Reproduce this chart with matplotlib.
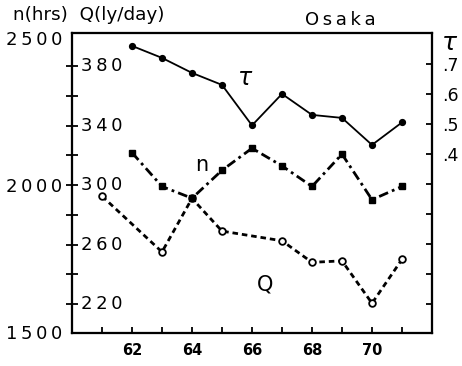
import matplotlib
matplotlib.use("Agg")
import matplotlib.pyplot as plt

# --- data ---
years_tau = [62, 63, 64, 65, 66, 67, 68, 69, 70, 71]
tau = [0.76, 0.72, 0.67, 0.63, 0.495, 0.60, 0.53, 0.52, 0.43, 0.505]

years_n = [62, 63, 64, 65, 66, 67, 68, 69, 70, 71]
n_hrs = [2110, 1995, 1955, 2050, 2125, 2065, 1995, 2105, 1950, 1995]

years_q = [61, 63, 64, 65, 67, 68, 69, 70, 71]
q_ly = [292.5, 255, 291, 269, 262.5, 248, 249, 220.5, 250]

year_ticks = list(range(61, 72))
year_labels = [62, 64, 66, 68, 70]
q_ticks = list(range(220, 400, 20))
q_labels = [220, 260, 300, 340, 380]
n_labels = [1500, 2000, 2500]
tau_ticks = [-0.1, 0.0, 0.1, 0.2, 0.3, 0.4, 0.5, 0.6, 0.7]
tau_labels = [0.4, 0.5, 0.6, 0.7]

plt.rcParams["font.family"] = ["DejaVu Sans"]
plt.rcParams["lines.scale_dashes"] = False

THIN = "\u2009"


def spaced(s, sep=THIN):
    return sep.join(s)


fig = plt.figure(figsize=(4.62, 3.66), dpi=100)
ax = fig.add_axes([72 / 462, 33 / 366, 360 / 462, 300 / 366])
ax_n = ax.twinx()
ax_t = ax.twinx()

ax.set_xlim(60, 72)
ax.set_ylim(200.5, 402.2)
ax_n.set_ylim(1496.6, 2517)
ax_t.set_ylim(-0.197, 0.803)

for a in (ax, ax_n, ax_t):
    for sp in a.spines.values():
        sp.set_linewidth(1.5)

# x axis
ax.set_xticks(year_ticks)
ax.set_xticklabels([str(y) if y in year_labels else "" for y in year_ticks],
                   fontsize=10.5, fontweight="bold")
ax.tick_params(axis="x", direction="in", length=4, width=1.3, pad=7)

# Q ticks cross the left spine, labels sit inside the box
ax.set_yticks(q_ticks)
ax.set_yticklabels([])
ax.tick_params(axis="y", direction="inout", length=8.5, width=1.3)
for v in q_labels:
    ax.text(0.026, v, spaced(str(v)), transform=ax.get_yaxis_transform(),
            ha="left", va="center", fontsize=13)

# n labels to the left of the spine, no ticks
ax_n.yaxis.set_ticks_position("left")
ax_n.set_yticks(n_labels)
ax_n.set_yticklabels([spaced(str(v)) for v in n_labels], fontsize=13)
ax_n.tick_params(axis="y", length=0, pad=7)

# tau axis on the right
ax_t.set_yticks(tau_ticks)
ax_t.set_yticklabels([("%.1f" % v)[1:] if v in tau_labels else "" for v in tau_ticks],
                     fontsize=12.5)
ax_t.tick_params(axis="y", direction="in", length=4, width=1.3, pad=7)

# series
ax_t.plot(years_tau, tau, color="black", lw=1.3, marker="o", ms=4.2, zorder=3)
ax_n.plot(years_n, n_hrs, color="black", lw=2.0, linestyle=(0, (7, 3, 2, 3)),
          marker="s", ms=4.2, zorder=3)
ax.plot(years_q, q_ly, color="black", lw=2.0, linestyle=(0, (4, 2.8)),
        marker="o", ms=4.8, mfc="white", mec="black", mew=1.3, zorder=3)

# in-plot series names
ax.text(65.77, 372, r"$\tau$", fontsize=17, ha="center", va="center")
ax.text(64.33, 313.4, "n", fontsize=15, ha="center", va="center")
ax.text(66.43, 232.8, "Q", fontsize=15, ha="center", va="center")

# headers
fig.text(13 / 462, 1 - 15 / 366, "n(hrs)  Q(ly/day)", fontsize=13.2, ha="left", va="center")
fig.text(340 / 462, 1 - 20 / 366, spaced("Osaka"), fontsize=13,
         ha="center", va="center")
fig.text(450 / 462, 1 - 43 / 366, r"$\tau$", fontsize=18, ha="center", va="center")

fig.savefig("out.png", dpi=100)
